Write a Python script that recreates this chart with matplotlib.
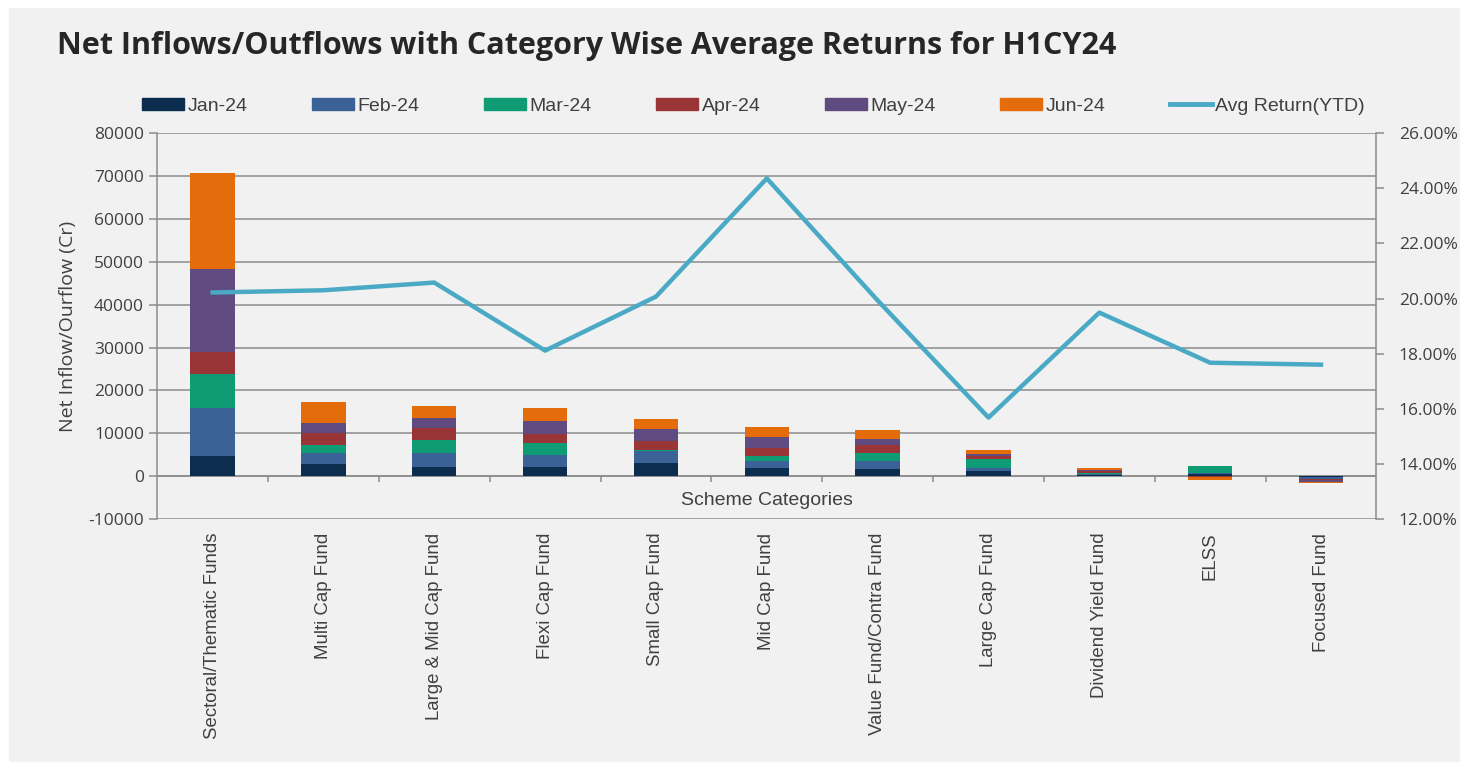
import numpy as np
import matplotlib.pyplot as plt
from matplotlib.patches import Patch, Rectangle
from matplotlib.lines import Line2D
from matplotlib.ticker import PercentFormatter

# --- data ---
categories = ["Sectoral/Thematic Funds", "Multi Cap Fund", "Large & Mid Cap Fund",
              "Flexi Cap Fund", "Small Cap Fund", "Mid Cap Fund",
              "Value Fund/Contra Fund", "Large Cap Fund", "Dividend Yield Fund",
              "ELSS", "Focused Fund"]
months = ["Jan-24", "Feb-24", "Mar-24", "Apr-24", "May-24", "Jun-24"]

jan = [4670, 2800, 2180, 2190, 3050, 1950, 1560, 1240, 200, 450, -150]
feb = [11300, 2500, 3120, 2650, 2890, 1640, 1880, 700, 250, 300, -500]
mar = [7940, 1940, 3190, 2820, 100, 1100, 1870, 2090, 250, 1700, -100]
apr = [4980, 2730, 2720, 2110, 2160, 1790, 1880, 700, 450, -150, -250]
may = [19470, 2410, 2260, 3200, 2740, 2580, 1480, 460, 350, -150, -400]
jun = [22360, 4830, 2890, 2970, 2340, 2500, 2110, 930, 450, -600, -150]

avg_return = [20.22, 20.30, 20.58, 18.11, 20.07, 24.36, 19.93, 15.68, 19.49, 17.67, 17.60]

colors = ["#0c2d4e", "#3a6296", "#0f9b73", "#993537", "#5f4b7f", "#e46c0a"]
line_color = "#4aaac6"
grid_color = "#8c8c8c"
text_color = "#404040"

plt.rcParams['font.family'] = ['Open Sans', 'DejaVu Sans']
plt.rcParams['axes.unicode_minus'] = False
arial = ['Liberation Sans', 'DejaVu Sans']

fig = plt.figure(figsize=(14.69, 7.7), dpi=100, facecolor="white")
fig.patches.append(Rectangle((0.006, 0.01), 0.988, 0.98, transform=fig.transFigure,
                             facecolor="#f1f1f1", edgecolor="none", zorder=-10))

ax = fig.add_axes([0.107, 0.326, 0.83, 0.501])
ax.set_facecolor("none")

x = np.arange(len(categories))
series = [jan, feb, mar, apr, may, jun]
pos_base = np.zeros(len(categories))
neg_base = np.zeros(len(categories))
for vals, c in zip(series, colors):
    v = np.array(vals, dtype=float)
    base = np.where(v >= 0, pos_base, neg_base)
    ax.bar(x, v, 0.4, bottom=base, color=c, zorder=3)
    pos_base += np.where(v >= 0, v, 0)
    neg_base += np.where(v < 0, v, 0)

ax.set_xlim(-0.5, len(categories) - 0.5)
ax.set_ylim(-10000, 80000)
ax.set_yticks(np.arange(-10000, 80001, 10000))
ax.yaxis.grid(True, color=grid_color, linewidth=1.1, zorder=0)
ax.set_axisbelow(True)

# category axis at zero, tick marks between categories
ax.axhline(0, color=grid_color, linewidth=1.1, zorder=2)
ax.vlines(x[:-1] + 0.5, -1300, 0, color=grid_color, linewidth=1.1, zorder=2)

ax.set_xticks(x)
ax.set_xticklabels(categories, rotation=90, fontsize=13.4, color=text_color, family=arial)
ax.tick_params(axis='x', length=0, pad=10)
ax.tick_params(axis='y', length=6, color=grid_color, labelsize=12.5,
               labelcolor=text_color, width=1.1)

for s in ["top", "bottom", "right"]:
    ax.spines[s].set_visible(False)
ax.spines["left"].set_color(grid_color)
ax.spines["left"].set_linewidth(1.1)

ax.set_ylabel("Net Inflow/Ourflow (Cr)", fontsize=14, color=text_color, labelpad=8)
ax.text(0.5, 0.047, "Scheme Categories", transform=ax.transAxes, ha="center",
        va="center", fontsize=14, color=text_color, family=arial)

ax2 = ax.twinx()
ax2.plot(x, avg_return, color=line_color, linewidth=3.2, zorder=4)
ax2.set_ylim(12, 26)
ax2.set_yticks(np.arange(12, 26.1, 2))
ax2.yaxis.set_major_formatter(PercentFormatter(100, decimals=2))
ax2.tick_params(axis='y', length=6, color=grid_color, labelsize=12.5,
                labelcolor=text_color, width=1.1, pad=10)
for s in ["top", "bottom", "left"]:
    ax2.spines[s].set_visible(False)
ax2.spines["right"].set_color(grid_color)
ax2.spines["right"].set_linewidth(1.1)

fig.text(0.039, 0.94, "Net Inflows/Outflows with Category Wise Average Returns for H1CY24",
         fontsize=22, fontweight="bold", color="#262626", va="center")

handles = [Patch(color=c) for c in colors] + [Line2D([], [], color=line_color, linewidth=3.5)]
labels = months + ["Avg Return(YTD)"]
fig.legend(handles, labels, loc="center", bbox_to_anchor=(0.513, 0.862), ncol=7,
           frameon=False, prop={'family': arial, 'size': 14},
           handlelength=2.15, handleheight=0.55, columnspacing=3.3,
           handletextpad=0.2, labelcolor=text_color)

fig.savefig("out.png", dpi=100)
